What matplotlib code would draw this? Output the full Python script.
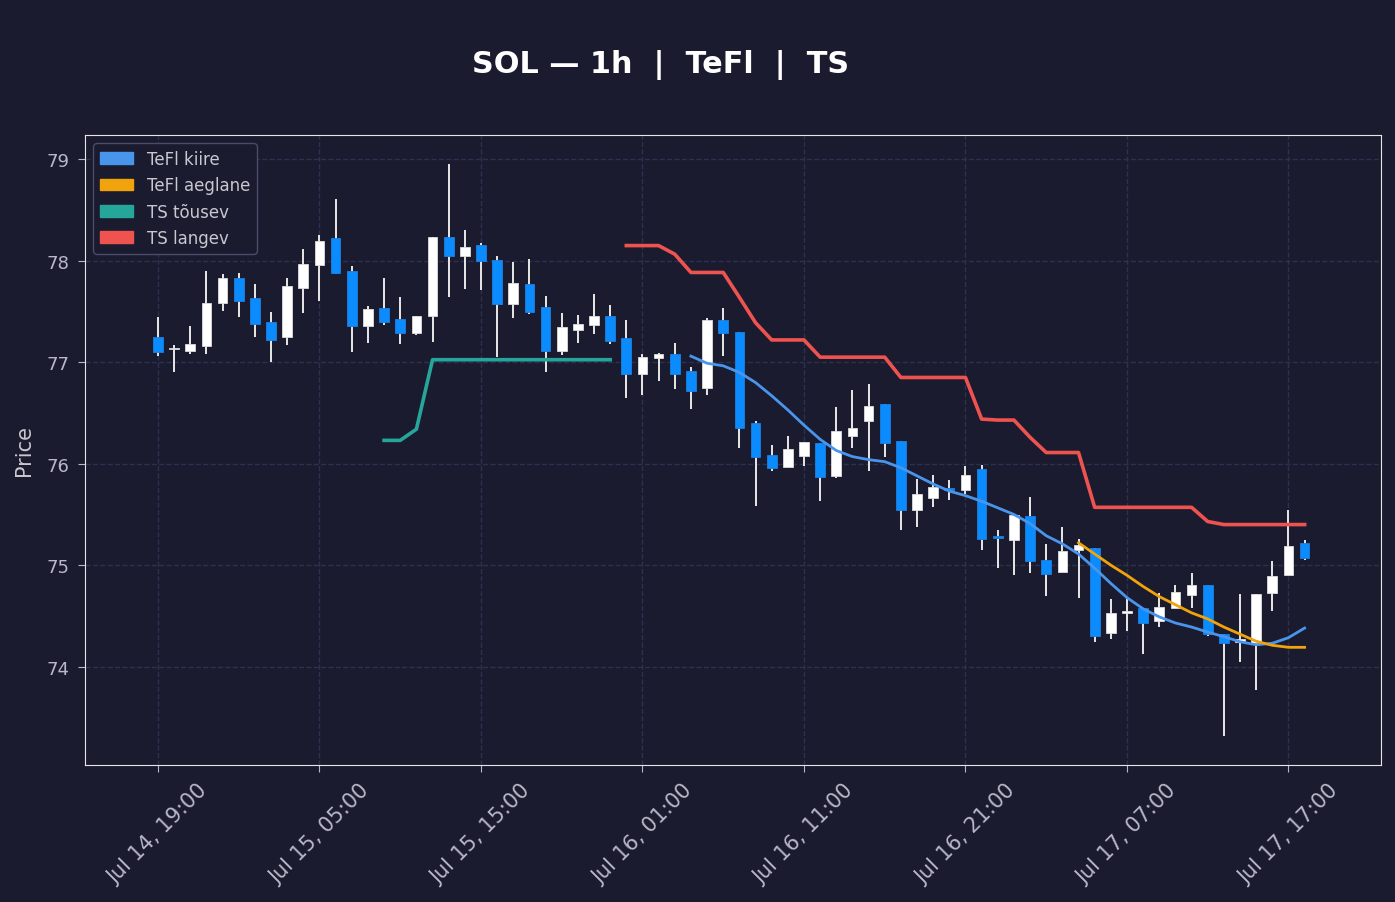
import matplotlib
matplotlib.use("Agg")
import matplotlib.pyplot as plt
import matplotlib.dates as mdates
from matplotlib.patches import Patch
import numpy as np
import pandas as pd

times = pd.date_range("2024-07-14 19:00", periods=72, freq="h")

opens = [77.25, 77.13, 77.11, 77.16, 77.58, 77.83, 77.63, 77.40, 77.25, 77.73,
         77.96, 78.22, 77.90, 77.36, 77.53, 77.43, 77.29, 77.455, 78.23, 78.045,
         78.16, 78.01, 77.57, 77.77, 77.54, 77.11, 77.32, 77.37, 77.455, 77.24,
         76.88, 77.04, 77.08, 76.91, 76.75, 77.415, 77.30, 76.40, 76.09, 75.97,
         76.08, 76.20, 75.88, 76.27, 76.42, 76.59, 76.22, 75.545, 75.66, 75.76,
         75.74, 75.95, 75.285, 75.25, 75.48, 75.05, 74.935, 75.15, 75.17, 74.33,
         74.53, 74.58, 74.45, 74.58, 74.71, 74.80, 74.325, 74.245, 74.23, 74.73,
         74.90, 75.22]
highs = [77.445, 77.17, 77.356, 77.90, 77.87, 77.88, 77.77, 77.50, 77.83, 78.12,
         78.25, 78.61, 77.95, 77.55, 77.83, 77.64, 77.46, 78.23, 78.95, 78.30,
         78.18, 78.045, 77.99, 78.02, 77.65, 77.49, 77.47, 77.67, 77.56, 77.415,
         77.08, 77.09, 77.19, 76.95, 77.435, 77.53, 77.30, 76.42, 76.18, 76.27,
         76.21, 76.20, 76.56, 76.73, 76.79, 76.59, 76.22, 75.85, 75.89, 75.84,
         75.98, 75.99, 75.35, 75.49, 75.67, 75.21, 75.38, 75.26, 75.17, 74.67,
         74.69, 74.58, 74.73, 74.80, 74.925, 74.80, 74.325, 74.72, 74.72, 75.04,
         75.545, 75.25]
lows = [77.06, 76.90, 77.08, 77.08, 77.51, 77.445, 77.25, 77.00, 77.17, 77.49,
        77.60, 77.87, 77.10, 77.19, 77.37, 77.18, 77.27, 77.20, 77.64, 77.72,
        77.71, 77.05, 77.435, 77.48, 76.90, 77.07, 77.19, 77.28, 77.18, 76.65,
        76.68, 76.815, 76.74, 76.54, 76.68, 77.06, 76.15, 75.58, 75.93, 75.97,
        75.98, 75.63, 75.86, 76.15, 75.93, 76.07, 75.35, 75.38, 75.575, 75.645,
        75.70, 75.15, 74.97, 74.90, 74.92, 74.70, 74.93, 74.68, 74.24, 74.27,
        74.35, 74.12, 74.39, 74.58, 74.58, 74.305, 73.32, 74.05, 73.77, 74.55,
        74.90, 75.05]
closes = [77.10, 77.145, 77.18, 77.58, 77.83, 77.60, 77.376, 77.22, 77.75, 77.97,
          78.20, 77.88, 77.36, 77.52, 77.40, 77.29, 77.46, 78.23, 78.05, 78.14,
          78.00, 77.57, 77.78, 77.50, 77.11, 77.35, 77.38, 77.455, 77.21, 76.88,
          77.05, 77.08, 76.88, 76.72, 77.415, 77.29, 76.35, 76.07, 75.96, 76.14,
          76.21, 75.87, 76.32, 76.35, 76.57, 76.20, 75.545, 75.70, 75.77, 75.745,
          75.89, 75.26, 75.27, 75.49, 75.04, 74.915, 75.14, 75.20, 74.30, 74.53,
          74.545, 74.43, 74.59, 74.74, 74.80, 74.325, 74.23, 74.275, 74.72, 74.89,
          75.19, 75.07]

nan = np.nan
tefl_fast = [nan] * 33 + [
    77.06, 76.99, 76.965, 76.90, 76.80, 76.67, 76.53, 76.38, 76.24, 76.13,
    76.07, 76.04, 76.02, 75.96, 75.88, 75.80, 75.73, 75.685, 75.63, 75.565,
    75.50, 75.41, 75.29, 75.21, 75.11, 74.97, 74.82, 74.68, 74.57, 74.49,
    74.43, 74.39, 74.34, 74.295, 74.245, 74.215, 74.23, 74.285, 74.38]
tefl_slow = [nan] * 57 + [
    75.22, 75.11, 75.00, 74.90, 74.79, 74.69, 74.61, 74.53, 74.47, 74.39,
    74.32, 74.25, 74.21, 74.19, 74.19]
ts_up = [nan] * 14 + [76.23, 76.23, 76.34] + [77.025] * 12 + [nan] * 43
ts_down = [nan] * 29 + [
    78.15, 78.15, 78.15, 78.065, 77.885, 77.885, 77.885, 77.64, 77.39, 77.22,
    77.22, 77.22, 77.05, 77.05, 77.05, 77.05, 77.05, 76.85, 76.85, 76.85,
    76.85, 76.85, 76.44, 76.43, 76.43, 76.26, 76.11, 76.11, 76.11, 75.57,
    75.57, 75.57, 75.57, 75.57, 75.57, 75.57, 75.43, 75.40, 75.40, 75.40,
    75.40, 75.40, 75.40]

BG = "#1a1b2e"
UP = "#ffffff"
DOWN = "#0a8cff"
C_FAST = "#4a95ec"
C_SLOW = "#f0a30a"
C_UP = "#26a69a"
C_DOWN = "#ef5350"

plt.rcParams["font.family"] = ["DejaVu Sans"]
fig = plt.figure(figsize=(13.95, 9.03), dpi=100, facecolor=BG)
ax = fig.add_axes([85 / 1395, 1 - 766 / 903, (1381 - 85) / 1395, (766 - 136) / 903])
ax.set_facecolor(BG)

x = mdates.date2num(times.to_pydatetime())
o = np.array(opens); c = np.array(closes); h = np.array(highs); l = np.array(lows)
w = 0.6 / 24
up = c >= o
ax.vlines(x, l, h, color="#e8e8e8", lw=1.4, zorder=2)
ax.bar(x[up], (c - o)[up], bottom=o[up], width=w, color=UP, edgecolor="#dddddd", lw=0.6, zorder=3)
ax.bar(x[~up], (o - c)[~up], bottom=c[~up], width=w, color=DOWN, edgecolor="#1f7fe0", lw=0.6, zorder=3)

ax.plot(x, tefl_fast, color=C_FAST, lw=2.0, zorder=4)
ax.plot(x, tefl_slow, color=C_SLOW, lw=2.0, zorder=4)
ax.plot(x, ts_up, color=C_UP, lw=2.6, zorder=4)
ax.plot(x, ts_down, color=C_DOWN, lw=2.6, zorder=4)

hr = 1 / 24
ax.set_xlim(x[0] - 4.52 * hr, x[0] + 75.73 * hr)
ax.set_ylim(73.03, 79.24)

ticks = x[::10]
ax.set_xticks(ticks)
ax.set_xticklabels([t.strftime("%b %d, %H:%M") for t in times[::10]], rotation=45,
                   ha="center")
ax.set_yticks([74, 75, 76, 77, 78, 79])
ax.tick_params(axis="both", colors="#b8b8c8", length=5)
ax.tick_params(axis="y", labelsize=13, pad=6)
ax.tick_params(axis="x", labelsize=15, pad=6)
for lab in ax.get_xticklabels() + ax.get_yticklabels():
    lab.set_color("#b8b8c8")
ax.grid(True, color="#2e3050", ls="--", lw=1.0)
ax.set_axisbelow(True)
for s in ax.spines.values():
    s.set_color("#e6e6e6")
ax.set_ylabel("Price", color="#c8c8d0", fontsize=15, labelpad=9)

handles = [Patch(color=C_FAST, label="TeFl kiire"), Patch(color=C_SLOW, label="TeFl aeglane"),
           Patch(color=C_UP, label="TS tõusev"), Patch(color=C_DOWN, label="TS langev")]
leg = ax.legend(handles=handles, loc="upper left", fontsize=12, facecolor=BG,
                edgecolor="#4a4c68", labelcolor="#c8c8d0", framealpha=1.0,
                borderaxespad=0.5)

fig.text(0.4735, 1 - 64.5 / 903, "SOL — 1h  |  TeFl  |  TS", color="white", fontsize=21.8,
         fontweight="bold", ha="center", va="center")

fig.savefig("out.png", dpi=100, facecolor=BG)
